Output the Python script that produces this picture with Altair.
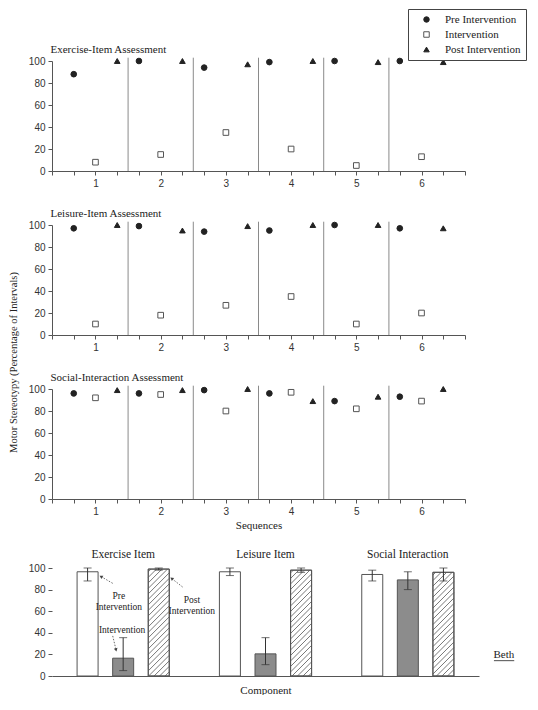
import altair as alt
import pandas as pd

# ---------------- data ----------------
sequences = [1, 2, 3, 4, 5, 6]
phases = ["Pre Intervention", "Intervention", "Post Intervention"]

exercise_pre = [88, 100, 94, 99, 100, 100]
exercise_int = [8, 15, 35, 20, 5, 13]
exercise_post = [100, 100, 97, 100, 99, 99]

leisure_pre = [97, 99, 94, 95, 100, 97]
leisure_int = [10, 18, 27, 35, 10, 20]
leisure_post = [100, 95, 99, 100, 100, 97]

social_pre = [96, 96, 99, 96, 89, 93]
social_int = [92, 95, 80, 97, 82, 89]
social_post = [99, 99, 100, 89, 93, 100]

components = ["Exercise Item", "Leisure Item", "Social Interaction"]
bar_pre = [96.5, 96.5, 94]
bar_pre_lo = [88, 93, 88]
bar_pre_hi = [100, 100, 98]
bar_int = [16.5, 20.5, 89]
bar_int_lo = [5, 10.5, 80]
bar_int_hi = [35.5, 35.5, 96.5]
bar_post = [99, 98, 96]
bar_post_lo = [98, 96, 88]
bar_post_hi = [100, 100, 100]

# annotation anchors (in bar-chart data units)
ann_text = ["Pre\nIntervention", "Post\nIntervention", "Intervention"]
ann_x = [1.88, 3.93, 1.97]
ann_y = [74.5, 70.5, 42.3]
arr_x = [1.706, 3.67, 1.706]
arr_y = [85.8, 82.4, 37.1]
arr_x2 = [1.377, 3.364, 1.80]
arr_y2 = [92.1, 90.3, 24.2]
arr_angle = [301, 308, 167]
participant = "Beth"
participant_x = 12.7
participant_y = 19.7
underline_x = [12.42, 12.99]
underline_y = 14.2

# ---------------- style ----------------
serif = "Liberation Serif"
sans = "Liberation Sans"
ink = "#222222"
axis_gray = "#555555"
sep_gray = "#8a8a8a"

PANEL_W, PANEL_H = 413, 110
BAR_W, BAR_PLOT_H, BAR_HEAD = 427, 108, 15
BAR_H = BAR_PLOT_H + BAR_HEAD
BAR_TOP = 100 * BAR_H / BAR_PLOT_H  # headroom above 100 for the group titles
BAR_PX = 21  # bar width in pixels


def panel(vals_pre, vals_int, vals_post, title, first=False, ytitle=False, xtitle=False):
    rows = []
    for pi, vals in enumerate([vals_pre, vals_int, vals_post]):
        for s, v in zip(sequences, vals):
            rows.append({"pos": 3 * (s - 1) + pi + 1, "value": v, "phase": phases[pi]})
    df = pd.DataFrame(rows)
    seps = pd.DataFrame({"sep": [3 * s + 0.5 for s in sequences[:-1]], "y0": 0, "y1": 103})
    n_end = 3 * len(sequences) + 1
    xs = alt.Scale(domain=[0, n_end], nice=False, zero=False)
    ys = alt.Scale(domain=[0, 100], nice=False)

    xaxis_kw = dict(
        values=list(range(n_end + 1)),
        labelExpr="datum.value % 3 == 2 ? '' + (datum.value + 1) / 3 : ''",
        grid=False, tickSize=4, labelPadding=3, labelOverlap=False,
        title="Sequences" if xtitle else None,
    )
    if xtitle:
        xaxis_kw.update(titlePadding=3)
    x = alt.X("pos:Q", scale=xs, axis=alt.Axis(**xaxis_kw))

    yaxis_kw = dict(values=[0, 20, 40, 60, 80, 100], grid=False, tickSize=4, labelPadding=3,
                    labelOverlap=False,
                    title="Motor Stereotypy (Percentage of Intervals)" if ytitle else None)
    if ytitle:
        yaxis_kw.update(titleY=137, titlePadding=10, titleFontSize=10.5)
    y = alt.Y("value:Q", scale=ys, axis=alt.Axis(**yaxis_kw))

    if first:
        leg = alt.Legend(orient="none", legendX=356, legendY=-52, title=None,
                         direction="vertical", strokeColor="#444444", fillColor="white",
                         padding=5, labelFont=serif, labelFontSize=11, labelColor=ink,
                         symbolOffset=8, labelOffset=13, rowPadding=3,
                         symbolSize=30, symbolStrokeWidth=1)
    else:
        leg = None

    shape = alt.Shape("phase:N", scale=alt.Scale(domain=phases, range=["circle", "square", "triangle-up"]), legend=leg)
    fill = alt.Fill("phase:N", scale=alt.Scale(domain=phases, range=[ink, "#ffffff", ink]), legend=leg)
    stroke = alt.Stroke("phase:N", scale=alt.Scale(domain=phases, range=[ink, "#555555", ink]), legend=leg)

    # panel title carried by a top axis of the separator layer
    top_axis = alt.Axis(orient="top", domain=False, ticks=False, labels=False, grid=False,
                        title=title, titleAnchor="start", titleAlign="left", titleX=-2,
                        titlePadding=7, titleFont=serif, titleFontSize=11, titleColor=ink)
    rules = alt.Chart(seps).mark_rule(color=sep_gray, strokeWidth=1).encode(
        x=alt.X("sep:Q", scale=xs, axis=top_axis),
        y=alt.Y("y0:Q", scale=ys, axis=alt.Axis(**yaxis_kw)),
        y2="y1:Q",
    )
    pts = alt.Chart(df).mark_point(size=32, opacity=1, strokeWidth=1, filled=False).encode(
        x=x, y=y, shape=shape, fill=fill, stroke=stroke,
    )
    return alt.layer(pts, rules).resolve_axis(x="independent").properties(
        width=PANEL_W, height=PANEL_H)


p1 = panel(exercise_pre, exercise_int, exercise_post, "Exercise-Item Assessment", first=True)
p2 = panel(leisure_pre, leisure_int, leisure_post, "Leisure-Item Assessment", ytitle=True)
p3 = panel(social_pre, social_int, social_post, "Social-Interaction Assessment", xtitle=True)

# ---------------- summary bar chart ----------------
means = [bar_pre, bar_int, bar_post]
los = [bar_pre_lo, bar_int_lo, bar_post_lo]
his = [bar_pre_hi, bar_int_hi, bar_post_hi]
brows = []
for g, comp in enumerate(components):
    for p, phase in enumerate(phases):
        brows.append({"component": comp, "phase": phase, "slot": 4 * g + p + 1,
                      "mean": means[p][g], "lo": los[p][g], "hi": his[p][g]})
bdf = pd.DataFrame(brows)
n_slots = 4 * len(components)

bxs = alt.Scale(domain=[0, n_slots], nice=False, zero=False, padding=0)
bys = alt.Scale(domain=[0, BAR_TOP], nice=False, padding=0)
bx_axis = alt.Axis(title="Component", ticks=False, labels=False, grid=False, titlePadding=8)
by_axis = alt.Axis(values=[0, 20, 40, 60, 80, 100], domain=False, grid=False, tickSize=4,
                   labelPadding=3, labelOverlap=False, title=None)


def bx(field):
    return alt.X(field, scale=bxs, axis=bx_axis)


def by(field):
    return alt.Y(field, scale=bys, axis=by_axis)


# diagonal "////" hatch lines inside the post-intervention bars (decoration geometry)
px_x = BAR_W / n_slots          # pixels per x unit
px_y = BAR_H / BAR_TOP          # pixels per y unit
gap = 5.5                       # hatch spacing in pixels
hatch_rows = []
for _, r in bdf[bdf["phase"] == phases[2]].iterrows():
    w = BAR_PX
    h = r["mean"] * px_y
    left = r["slot"] - (BAR_PX / 2) / px_x
    d = -h + gap / 2
    while d < w:
        xa = max(0.0, d)
        xb = min(w, h + d)
        if xb > xa:
            hatch_rows.append({"hx": left + xa / px_x, "hy": (xa - d) / px_y,
                               "hx2": left + xb / px_x, "hy2": (xb - d) / px_y})
        d += gap
hdf = pd.DataFrame(hatch_rows)

bbase = alt.Chart(bdf)
pre_bar = bbase.transform_filter(alt.datum.phase == phases[0]).mark_bar(
    size=BAR_PX, fill="white", stroke=axis_gray, strokeWidth=1).encode(x=bx("slot:Q"), y=by("mean:Q"))
int_bar = bbase.transform_filter(alt.datum.phase == phases[1]).mark_bar(
    size=BAR_PX, fill="#8c8c8c", stroke=axis_gray, strokeWidth=1).encode(x=bx("slot:Q"), y=by("mean:Q"))
post_bar = bbase.transform_filter(alt.datum.phase == phases[2]).mark_bar(
    size=BAR_PX, fill="white", stroke=axis_gray, strokeWidth=1).encode(x=bx("slot:Q"), y=by("mean:Q"))
hatch = alt.Chart(hdf).mark_rule(color="#555555", strokeWidth=0.8).encode(
    x=bx("hx:Q"), y=by("hy:Q"), x2="hx2:Q", y2="hy2:Q")
post_outline = bbase.transform_filter(alt.datum.phase == phases[2]).mark_bar(
    size=BAR_PX, fillOpacity=0, stroke=axis_gray, strokeWidth=1).encode(x=bx("slot:Q"), y=by("mean:Q"))
err = bbase.mark_rule(color="#333333", strokeWidth=1).encode(x=bx("slot:Q"), y=by("lo:Q"), y2="hi:Q")
cap_lo = bbase.mark_tick(orient="horizontal", size=8, thickness=1, color="#333333").encode(
    x=bx("slot:Q"), y=by("lo:Q"))
cap_hi = bbase.mark_tick(orient="horizontal", size=8, thickness=1, color="#333333").encode(
    x=bx("slot:Q"), y=by("hi:Q"))

gdf = pd.DataFrame({"component": components,
                    "cx": [4 * g + 2 for g in range(len(components))],
                    "cy": [112.5] * len(components)})
gtitles = alt.Chart(gdf).mark_text(font=serif, fontSize=11.5, color=ink).encode(
    x=bx("cx:Q"), y=by("cy:Q"), text="component:N")

adf = pd.DataFrame({"t": ann_text, "x": ann_x, "y": ann_y})
ann = alt.Chart(adf).mark_text(font=serif, fontSize=9.5, color=ink, lineBreak="\n",
                               lineHeight=11).encode(x=bx("x:Q"), y=by("y:Q"), text="t:N")
ardf = pd.DataFrame({"x": arr_x, "y": arr_y, "x2": arr_x2, "y2": arr_y2, "a": arr_angle})
arrows = alt.Chart(ardf).mark_rule(color="#444444", strokeWidth=0.8, strokeDash=[1.5, 1.5]).encode(
    x=bx("x:Q"), y=by("y:Q"), x2="x2:Q", y2="y2:Q")
heads = alt.Chart(ardf).mark_point(shape="triangle-up", size=14, filled=True, color="#444444",
                                   opacity=1).encode(x=bx("x2:Q"), y=by("y2:Q"),
                                                     angle=alt.Angle("a:Q", scale=None))
pdf = pd.DataFrame({"t": [participant], "x": [participant_x], "y": [participant_y],
                    "ux": [underline_x[0]], "ux2": [underline_x[1]], "uy": [underline_y]})
pname = alt.Chart(pdf).mark_text(font=serif, fontSize=11, color=ink).encode(
    x=bx("x:Q"), y=by("y:Q"), text="t:N")
puline = alt.Chart(pdf).mark_rule(color=ink, strokeWidth=0.8).encode(
    x=bx("ux:Q"), x2="ux2:Q", y=by("uy:Q"))

bar_chart = alt.layer(pre_bar, int_bar, post_bar, hatch, post_outline, err, cap_lo, cap_hi,
                      gtitles, ann, arrows, heads, pname, puline).properties(
    width=BAR_W, height=BAR_H)

chart = alt.vconcat(p1, p2, p3, bar_chart, spacing=54, bounds="flush").resolve_scale(
    x="independent", y="independent", shape="independent", fill="independent",
    stroke="independent").resolve_legend(shape="independent", fill="independent", stroke="independent")

chart = chart.properties(padding=0).configure_view(stroke=None).configure_axis(
    labelFont=sans, labelFontSize=10, labelColor="#333333", domainColor=axis_gray,
    tickColor=axis_gray, titleFont=serif, titleFontWeight="normal", titleFontSize=11,
    titleColor=ink,
)

chart.save("out.html", embed_options={"renderer": "svg", "actions": False})
